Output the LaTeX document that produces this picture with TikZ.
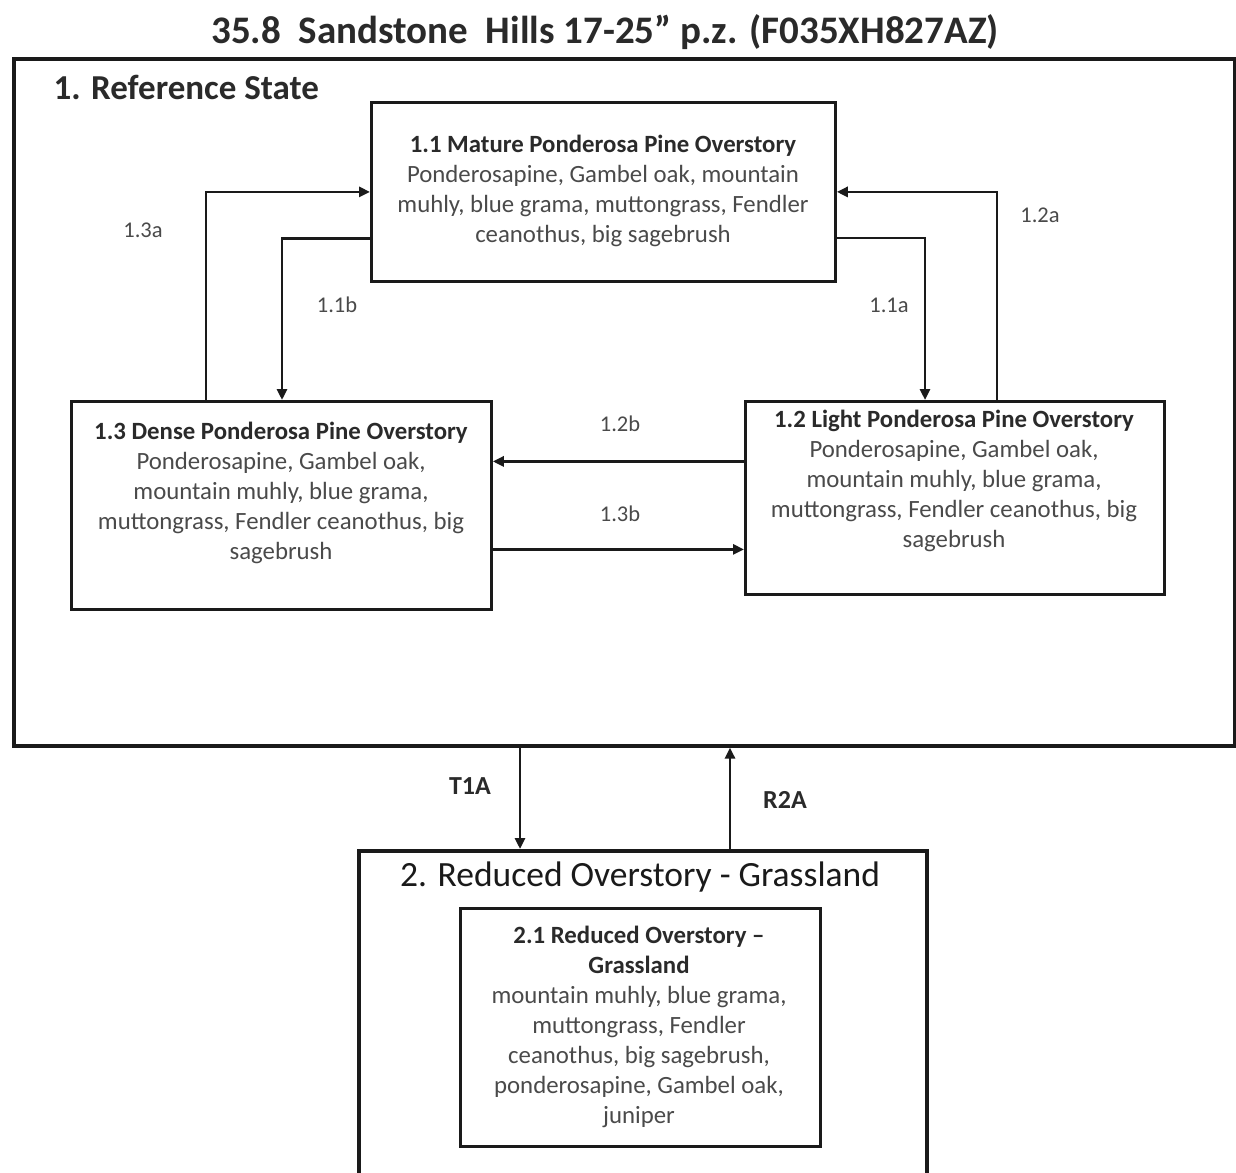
\documentclass[tikz,border=0pt]{standalone}
\usepackage{fontspec}
\setmainfont{Carlito}
\usetikzlibrary{arrows.meta}
\definecolor{txt}{HTML}{4A4A4A}
\definecolor{hd}{HTML}{2A2A2A}
\definecolor{ln}{HTML}{1A1A1A}
\begin{document}
\begin{tikzpicture}[x=1pt,y=-1pt,
  boxst/.style={draw=ln,line width=2.8pt,anchor=north west,inner sep=0pt},
  body/.style={text=txt,align=center,font=\fontsize{24.8}{30}\selectfont},
  arr/.style={draw=ln,line width=2.8pt,-{Triangle[length=11pt,width=10pt]}},
  lab/.style={text=txt,font=\fontsize{22.5}{26}\selectfont},
  tlab/.style={text=hd,font=\bfseries\fontsize{26}{30}\selectfont}
]
\useasboundingbox (0,0) rectangle (1236,1172);
\clip (0,0) rectangle (1236,1172);
\fill[white] (0,0) rectangle (1236,1172);

\node[font=\bfseries\fontsize{39}{44}\selectfont,text=hd] (title) at (605,32) {35.8~~Sandstone~~Hills 17-25” p.z. (F035XH827AZ)};

\node[draw=ln,line width=3.6pt,anchor=north west,inner sep=0pt,minimum width=1221pt,minimum height=687pt] (s1) at (12,57) {};
\node[anchor=west,text=hd,font=\bfseries\fontsize{35}{40}\selectfont] (s1t) at (50,87) {1. Reference State};

% 1.1
\node[boxst,minimum width=464pt,minimum height=179pt] (b11) at (370,101) {};
\node[body] (t11) at (603,191) {\textbf{\color{hd}1.1 Mature Ponderosa Pine Overstory}\\Ponderosapine, Gambel oak, mountain\\muhly, blue grama, muttongrass, Fendler\\ceanothus, big sagebrush};

% 1.3
\node[boxst,minimum width=420pt,minimum height=208pt] (b13) at (70,400) {};
\node[body] (t13) at (281,493) {\textbf{\color{hd}1.3 Dense Ponderosa Pine Overstory}\\Ponderosapine, Gambel oak,\\mountain muhly, blue grama,\\muttongrass, Fendler ceanothus, big\\sagebrush};

% 1.2
\node[boxst,minimum width=419pt,minimum height=193pt] (b12) at (744,400) {};
\node[body] (t12) at (954,481) {\textbf{\color{hd}1.2 Light Ponderosa Pine Overstory}\\Ponderosapine, Gambel oak,\\mountain muhly, blue grama,\\muttongrass, Fendler ceanothus, big\\sagebrush};

% state 2
\node[draw=ln,line width=3.6pt,anchor=north west,inner sep=0pt,minimum width=568pt,minimum height=420pt] (b2) at (357,849) {};
\node[text=ln,font=\fontsize{35.5}{40}\selectfont] (b2t) at (640,877) {2. Reduced Overstory - Grassland};
\node[boxst,minimum width=360pt,minimum height=238pt] (b21) at (459,907) {};
\node[body] (t21) at (639,1027) {\textbf{\color{hd}2.1 Reduced Overstory –}\\\textbf{\color{hd}Grassland}\\mountain muhly, blue grama,\\muttongrass, Fendler\\ceanothus, big sagebrush,\\ponderosapine, Gambel oak,\\juniper};

% arrows within state 1
\draw[arr] ([xshift=136pt]b13.north west) |- (b11.west);
\draw[arr] ([yshift=-46.5pt]b11.west) -| ([xshift=212pt]b13.north west);
\draw[arr] ([yshift=-46pt]b11.east) -| ([xshift=181pt]b12.north west);
\draw[arr] ([xshift=253pt]b12.north west) |- (b11.east);
\coordinate (p12b) at ([yshift=36.5pt]b12.west);
\draw[arr] (p12b) -- (p12b -| b13.east);
\coordinate (p13b) at ([yshift=-44pt]b13.east);
\draw[arr] (p13b) -- (p13b -| b12.west);

\node[lab] (l13a) at (143,230) {1.3a};
\node[lab] (l11b) at (337,305) {1.1b};
\node[lab] (l11a) at (889,305) {1.1a};
\node[lab] (l12a) at (1040,215) {1.2a};
\node[lab] (l12b) at (620,424) {1.2b};
\node[lab] (l13b) at (620,514) {1.3b};

% transitions
\coordinate (cT) at ([xshift=163pt]b2.north west);
\coordinate (cR) at ([xshift=373pt]b2.north west);
\draw[arr] (cT |- s1.south) -- (cT);
\draw[arr] (cR) -- (cR |- s1.south);
\node[tlab] (lT) at (470,786) {T1A};
\node[tlab] (lR) at (785,800) {R2A};
\end{tikzpicture}
\end{document}
